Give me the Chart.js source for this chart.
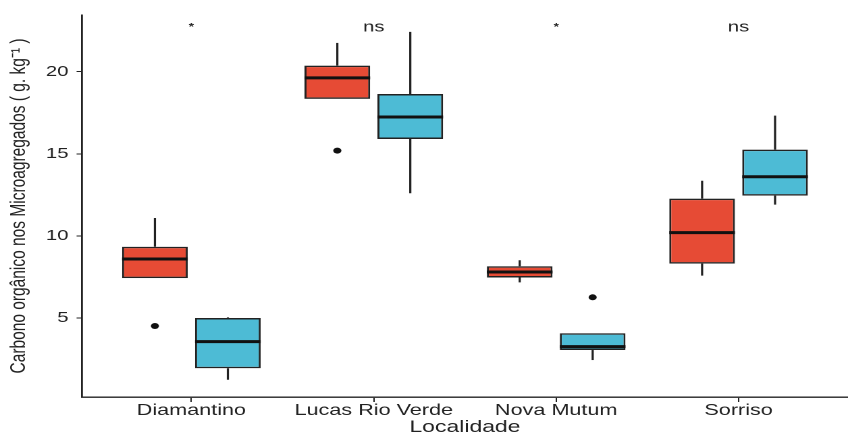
<!DOCTYPE html>
<html>
<head>
<meta charset="utf-8">
<script src="https://cdn.jsdelivr.net/npm/chart.js@4.4.1/dist/chart.umd.min.js"></script>
<style>
  body { margin: 0; background: #fff; }
  #chart { display: block; }
</style>
</head>
<body>
<!-- the original figure is stretched sideways, so the canvas is too -->
<canvas id="chart" width="628" height="436" style="width:848px;height:436px"></canvas>
<script>
const categories = ['Diamantino', 'Lucas Rio Verde', 'Nova Mutum', 'Sorriso'];

// série vermelha
const redLow = [7.43, 18.34, 7.17, 7.58];
const redQ1 = [7.43, 18.34, 7.47, 8.31];
const redMedian = [8.59, 19.62, 7.80, 10.20];
const redQ3 = [9.34, 20.37, 8.15, 12.27];
const redHigh = [11.09, 21.75, 8.52, 13.36];
const redOutliers = [[4.51], [15.19], [], []];

// série azul
const blueLow = [1.24, 12.60, 2.44, 11.90];
const blueQ1 = [1.94, 15.90, 3.05, 12.45];
const blueMedian = [3.56, 17.24, 3.26, 13.60];
const blueQ3 = [5.00, 18.64, 4.07, 15.25];
const blueHigh = [5.04, 22.42, 4.07, 17.32];
const blueOutliers = [[], [], [6.26], []];

const signifLabels = ['*', 'ns', '*', 'ns'];
const signifY = 22.7;
const yTicks = [5, 10, 15, 20];

const FONT = "'Liberation Sans', Arial, sans-serif";

const stats = [
    { low: redLow, q1: redQ1, median: redMedian, q3: redQ3, high: redHigh, outliers: redOutliers },
    { low: blueLow, q1: blueQ1, median: blueMedian, q3: blueQ3, high: blueHigh, outliers: blueOutliers }
];

// whiskers, medianas, outliers e rótulos
const boxplotPlugin = {
    id: 'boxplot',
    beforeDatasetsDraw(chart) {
        const ctx = chart.ctx;
        const y = chart.scales.y;
        ctx.save();
        ctx.strokeStyle = '#222';
        ctx.lineWidth = 1.6;
        stats.forEach((s, d) => {
            chart.getDatasetMeta(d).data.forEach((bar, i) => {
                ctx.beginPath();
                ctx.moveTo(bar.x, y.getPixelForValue(s.high[i]));
                ctx.lineTo(bar.x, y.getPixelForValue(s.q3[i]));
                ctx.moveTo(bar.x, y.getPixelForValue(s.q1[i]));
                ctx.lineTo(bar.x, y.getPixelForValue(s.low[i]));
                ctx.stroke();
            });
        });
        ctx.restore();
    },
    afterDatasetsDraw(chart) {
        const ctx = chart.ctx;
        const x = chart.scales.x;
        const y = chart.scales.y;
        ctx.save();
        stats.forEach((s, d) => {
            chart.getDatasetMeta(d).data.forEach((bar, i) => {
                const my = y.getPixelForValue(s.median[i]);
                ctx.strokeStyle = '#111';
                ctx.lineWidth = 3;
                ctx.beginPath();
                ctx.moveTo(bar.x - bar.width / 2, my);
                ctx.lineTo(bar.x + bar.width / 2, my);
                ctx.stroke();
                ctx.fillStyle = '#111';
                s.outliers[i].forEach(v => {
                    ctx.beginPath();
                    ctx.arc(bar.x, y.getPixelForValue(v), 3, 0, Math.PI * 2);
                    ctx.fill();
                });
            });
        });
        ctx.textAlign = 'center';
        ctx.textBaseline = 'middle';
        ctx.fillStyle = '#222';
        signifLabels.forEach((t, i) => {
            ctx.font = t === '*' ? `bold 10px ${FONT}` : `15px ${FONT}`;
            ctx.fillText(t, x.getPixelForValue(i + 1), y.getPixelForValue(signifY));
        });
        ctx.restore();
    }
};

const makeBoxes = (q1, q3) => categories.map((c, i) => ({ x: i + 1, y: [q1[i], q3[i]] }));

new Chart(document.getElementById('chart'), {
    type: 'bar',
    data: {
        datasets: [
            {
                label: 'A',
                data: makeBoxes(redQ1, redQ3),
                backgroundColor: '#E64B35',
                borderColor: '#222',
                borderWidth: 1.5,
                borderSkipped: false
            },
            {
                label: 'B',
                data: makeBoxes(blueQ1, blueQ3),
                backgroundColor: '#4DBBD5',
                borderColor: '#222',
                borderWidth: 1.5,
                borderSkipped: false
            }
        ]
    },
    options: {
        responsive: false,
        devicePixelRatio: 2,
        animation: false,
        categoryPercentage: 0.8,
        barPercentage: 0.9,
        layout: { padding: { top: 15, left: 0, right: 0, bottom: 0 } },
        plugins: {
            legend: { display: false },
            tooltip: { enabled: false }
        },
        scales: {
            x: {
                type: 'linear',
                min: 0.4,
                max: 4.6,
                offset: false,
                afterBuildTicks: s => { s.ticks = categories.map((c, i) => ({ value: i + 1 })); },
                afterFit: s => { s.height = 39; },
                ticks: {
                    callback: v => categories[v - 1],
                    autoSkip: false,
                    maxRotation: 0,
                    padding: 0,
                    color: '#222',
                    font: { family: FONT, size: 16, lineHeight: 1.1 }
                },
                grid: { drawOnChartArea: false, drawTicks: true, tickLength: 5, color: '#222', offset: false },
                border: { display: true, color: '#222', width: 1.4 },
                title: {
                    display: true,
                    text: 'Localidade',
                    color: '#222',
                    font: { family: FONT, size: 17, lineHeight: 1 },
                    padding: { top: 0, bottom: 0 }
                }
            },
            y: {
                min: 0.19,
                max: 23.45,
                afterBuildTicks: s => { s.ticks = yTicks.map(v => ({ value: v })); },
                afterFit: s => { s.width = 60.7; },
                ticks: { padding: 6, color: '#222', font: { family: FONT, size: 15 } },
                grid: { drawOnChartArea: false, tickLength: 4, color: '#222' },
                border: { display: true, color: '#222', width: 1.4 },
                title: {
                    display: true,
                    text: 'Carbono orgânico nos Microagregados ( g. kg⁻¹ )',
                    color: '#222',
                    font: { family: FONT, size: 15.5 },
                    padding: { top: 5, bottom: 0 }
                }
            }
        }
    },
    plugins: [boxplotPlugin]
});
</script>
</body>
</html>
